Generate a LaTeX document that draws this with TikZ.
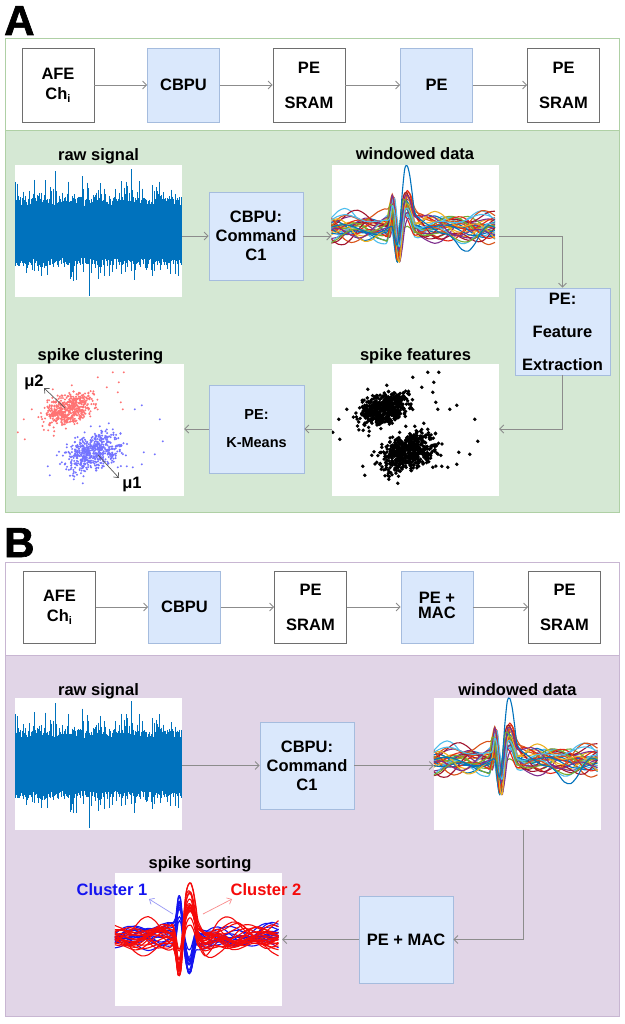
\documentclass[tikz,border=0pt]{standalone}
\usepackage{fontspec}
\setmainfont{Liberation Sans}
\newfontfamily\heavyfont[BoldFeatures={FakeBold=1.6}]{Liberation Sans}
\usetikzlibrary{arrows.meta}
\definecolor{gfill}{RGB}{213,232,212}
\definecolor{gline}{RGB}{175,208,165}
\definecolor{pfill}{RGB}{225,213,231}
\definecolor{pline}{RGB}{200,182,210}
\definecolor{bfill}{RGB}{218,232,252}
\definecolor{bline}{RGB}{165,188,222}
\definecolor{wline}{RGB}{110,110,110}
\definecolor{conncol}{RGB}{140,140,140}
\definecolor{rawcol}{RGB}{0,114,189}
\definecolor{wcol0}{RGB}{0,114,189}
\definecolor{wcol1}{RGB}{217,83,25}
\definecolor{wcol2}{RGB}{237,177,32}
\definecolor{wcol3}{RGB}{126,47,142}
\definecolor{wcol4}{RGB}{119,172,48}
\definecolor{wcol5}{RGB}{77,190,238}
\definecolor{wcol6}{RGB}{162,20,47}
\definecolor{wcol7}{RGB}{230,40,20}
\definecolor{sblue}{RGB}{20,20,240}
\definecolor{sred}{RGB}{245,10,10}

\newcommand{\rawplot}{%
  \pgfmathsetseed{11}%
  \foreach \i in {0,...,276}{%
    \pgfmathsetmacro{\myx}{0.5+\i*0.6}%
    \pgfmathsetmacro{\myup}{30+4*rand+22*(max(rnd-0.3,0)/0.7)^3}%
    \pgfmathsetmacro{\mydn}{30+4*rand+16*(max(rnd-0.35,0)/0.65)^3}%
    \draw[rawcol,line width=0.75pt] (\myx,67-\myup) -- (\myx,67+\mydn);
  }%
  \draw[rawcol,line width=0.9pt] (41,67) -- (41,6) (117,67) -- (117,4) (75,67) -- (75,131);
}

\def\mysamples{0,0.04,...,0.32,0.335,0.35,...,0.5,0.54,0.58,...,1}

\newcommand{\windowplot}{%
  \pgfmathsetseed{5}%
  \foreach \k in {0,...,29}{%
    \pgfmathsetmacro{\mypa}{360*rnd}%
    \pgfmathsetmacro{\mypb}{360*rnd}%
    \pgfmathsetmacro{\mynz}{4+7*rnd}%
    \pgfmathsetmacro{\myamp}{14+26*rnd}%
    \pgfmathsetmacro{\mysh}{0.012*rand}%
    \pgfmathsetmacro{\mybs}{62+5*rand}%
    \pgfmathtruncatemacro{\myci}{mod(\k,8)}%
    \draw[color=wcol\myci,line width=1.1pt] plot[smooth,samples at=\mysamples,variable=\q]
      ({167*\q},{\mybs+\mynz*sin(468*\q+\mypa)+0.6*\mynz*sin(1300*\q+\mypb)-\myamp*(0.75*bp(\q,0.372+\mysh,0.032)-1.0*bp(\q,0.40+\mysh,0.04)+0.75*bp(\q,0.45+\mysh,0.06))});
  }%
  \draw[color=wcol0,line width=1.1pt] plot[smooth,samples at=\mysamples,variable=\q]
      ({167*\q},{62+4*sin(500*\q+40)+6*sin(900*\q+200)-52*bp(\q,0.45,0.06)+25*bp(\q,0.40,0.04)+24*bp(\q,0.82,0.12)});
}

\newcommand{\sortplot}{%
  \pgfmathsetseed{9}%
  \foreach \k in {1,...,14}{%
    \pgfmathsetmacro{\mypa}{360*rnd}%
    \pgfmathsetmacro{\mypb}{360*rnd}%
    \pgfmathsetmacro{\mynz}{4+6*rnd}%
    \pgfmathsetmacro{\myamp}{22+14*rnd}%
    \pgfmathsetmacro{\mybs}{64+5*rand}%
    \draw[color=sblue,line width=1.1pt] plot[smooth,samples at=\mysamples,variable=\q]
      ({167*\q},{\mybs+\mynz*sin(468*\q+\mypa)+0.6*\mynz*sin(1300*\q+\mypb)-\myamp*(1.0*bp(\q,0.387,0.03)-1.0*bp(\q,0.445,0.045))});
  }%
  \foreach \k in {1,...,20}{%
    \pgfmathsetmacro{\mypa}{360*rnd}%
    \pgfmathsetmacro{\mypb}{360*rnd}%
    \pgfmathsetmacro{\mynz}{4+8*rnd}%
    \pgfmathsetmacro{\myamp}{16+28*rnd}%
    \pgfmathsetmacro{\mybs}{64+5*rand}%
    \draw[color=sred,line width=1.1pt] plot[smooth,samples at=\mysamples,variable=\q]
      ({167*\q},{\mybs+\mynz*sin(468*\q+\mypa)+0.6*\mynz*sin(1300*\q+\mypb)+\myamp*(1.0*bp(\q,0.387,0.035)-1.1*bp(\q,0.448,0.065)+0.25*bp(\q,0.54,0.08))});
  }%
}

% #1 style cluster 1, #2 style cluster 2, #3 radius
\newcommand{\scatterplot}[3]{%
  \pgfmathsetseed{77}%
  \foreach \i in {1,...,560}{%
    \pgfmathsetmacro{\mya}{rand+rand+rand}%
    \pgfmathsetmacro{\myb}{rand+rand+rand}%
    \fill[#1] ({52+11.8*\mya+2.4*\myb},{46-4.3*\mya+6.6*\myb}) circle[radius=#3];
    \pgfmathsetmacro{\mya}{rand+rand+rand}%
    \pgfmathsetmacro{\myb}{rand+rand+rand}%
    \fill[#2] ({76+12.6*\mya+2.7*\myb},{89-4.6*\mya+7.5*\myb}) circle[radius=#3];
  }%
  \foreach \p in {(96,9),(107,9),(81,14),(102,19),(90,24),(101,29),(104,39),(106,46),(15,46),(7,56),(36,26),(55,22),(1,69),(8,76)}{%
    \fill[#1] \p circle[radius=#3];
  }%
  \foreach \p in {(118,46),(125,42),(143,56),(146,78),(138,91),(127,89),(125,101),(116,104),(110,103),(101,104),(31,103),(33,112),(66,120),(57,116),(74,63),(83,63),(92,60),(96,66),(40,92),(45,99)}{%
    \fill[#2] \p circle[radius=#3];
  }%
}

\begin{document}
\begin{tikzpicture}[x=1pt,y=-1pt,
  declare function={bp(\z,\m,\w)=max(0,1-((\z-\m)/\w)*((\z-\m)/\w))^2;},
  lbl/.style={font=\bfseries\fontsize{16.5}{19}\selectfont, inner sep=0pt},
  wbox/.style={draw=wline, fill=white, line width=0.8pt, minimum width=72pt, minimum height=74pt, align=center, inner sep=0pt, font=\bfseries\fontsize{16.5}{19}\selectfont},
  bbox/.style={wbox, draw=bline, fill=bfill},
  cbox/.style={draw=bline, fill=bfill, line width=0.8pt, minimum width=94pt, minimum height=88pt, align=center, inner sep=0pt, font=\bfseries\fontsize{16.5}{19}\selectfont},
  plotbox/.style={fill=white, minimum width=167pt, minimum height=132pt, inner sep=0pt},
  conn/.style={draw=conncol, line width=0.8pt, -{Straight Barb[length=4pt,width=8pt]}},
  letter/.style={font=\heavyfont\bfseries\fontsize{42}{42}\selectfont, anchor=base west, inner sep=0pt},
]
\useasboundingbox (0,0) rectangle (624,1024);
\fill[white] (0,0) rectangle (624,1024);

% ================= Panel A =================
\node[letter] (la) at (4,35) {A};
\draw[gline, fill=white, line width=0.8pt] (5,38) rectangle (619,130);
\draw[gline, fill=gfill, line width=0.8pt] (5,130) rectangle (619,512);

\node[wbox] (a1) at (58,85) {AFE\\[1pt]Ch\raisebox{-3pt}{\fontsize{11}{11}\selectfont i}};
\node[bbox] (a2) at (183.5,85) {CBPU};
\node[wbox] (a3) at (309,85) {PE\\[16pt]SRAM};
\node[bbox] (a4) at (436.5,85) {PE};
\node[wbox] (a5) at (563.5,85) {PE\\[16pt]SRAM};
\draw[conn] (a1) -- (a2);
\draw[conn] (a2) -- (a3);
\draw[conn] (a3) -- (a4);
\draw[conn] (a4) -- (a5);

% plots A
\node[plotbox] (araw) at (98.5,231) {};
\begin{scope}[shift={(araw.north west)}]
  \clip (0,0) rectangle (167,132);
  \rawplot
\end{scope}
\node[lbl, anchor=base] (laraw) at (98.5,161) {raw signal};

\node[plotbox] (awin) at (415,231) {};
\begin{scope}[shift={(awin.north west)}]
  \clip (0,0) rectangle (167,132);
  \windowplot
\end{scope}
\node[lbl, anchor=base] (lawin) at (415,160) {windowed data};

\node[plotbox] (afeat) at (415.5,429.5) {};
\begin{scope}[shift={(afeat.north west)}]
  \clip (0,0) rectangle (167,132);
  \scatterplot{black}{black}{1.9pt}
\end{scope}
\node[lbl, anchor=base] (lafeat) at (415.5,360) {spike features};

\node[plotbox] (aclu) at (100.5,429.5) {};
\begin{scope}[shift={(aclu.north west)}]
  \clip (0,0) rectangle (167,132);
  \scatterplot{red!55}{blue!55}{1.1pt}
\end{scope}
\node[lbl, anchor=base] (laclu) at (100.5,360) {spike clustering};

\coordinate (m2s) at (65,408);
\coordinate (m2e) at (44,388);
\coordinate (m1s) at (98,455);
\coordinate (m1e) at (119,478);
\draw[black!65, line width=0.7pt, -{Straight Barb[length=4pt,width=7pt]}] (m2s) -- (m2e);
\draw[black!65, line width=0.7pt, -{Straight Barb[length=4pt,width=7pt]}] (m1s) -- (m1e);
\node[lbl] (mu2) at (34,382) {μ2};
\node[lbl] (mu1) at (132,484) {μ1};

% boxes A
\node[cbox] (acmd) at (256,236) {CBPU:\\Command\\C1};
\node[cbox, minimum width=95pt, minimum height=87pt] (afe) at (562.5,331.5) {PE:\\[14pt]Feature\\[14pt]Extraction};
\node[cbox, minimum width=95pt, font=\bfseries\fontsize{14.5}{17}\selectfont] (akm) at (256.5,429) {PE:\\[11pt]K-Means};

\draw[conn] (acmd.west -| araw.east) -- (acmd.west);
\draw[conn] (acmd.east) -- (acmd.east -| awin.west);
\draw[conn] (acmd.east -| awin.east) -| (afe.north);
\draw[conn] (afe.south) |- (akm.east -| afeat.east);
\draw[conn] (akm.east -| afeat.west) -- (akm.east);
\draw[conn] (akm.west) -- (akm.west -| aclu.east);

% ================= Panel B =================
\node[letter] (lb) at (4,557) {B};
\draw[pline, fill=white, line width=0.8pt] (5,562) rectangle (619,655);
\draw[pline, fill=pfill, line width=0.8pt] (5,655) rectangle (619,1016);

\node[wbox, minimum height=72pt] (b1) at (59.5,607) {AFE\\[1pt]Ch\raisebox{-3pt}{\fontsize{11}{11}\selectfont i}};
\node[bbox, minimum height=72pt] (b2) at (184.5,607) {CBPU};
\node[wbox, minimum height=72pt] (b3) at (310.5,607) {PE\\[16pt]SRAM};
\node[bbox, minimum height=72pt] (b4) at (437,607) {\raisebox{5pt}{\begin{tabular}{@{}c@{}}PE +\\[-4pt]MAC\end{tabular}}};
\node[wbox, minimum height=72pt] (b5) at (564.5,607) {PE\\[16pt]SRAM};
\draw[conn] (b1) -- (b2);
\draw[conn] (b2) -- (b3);
\draw[conn] (b3) -- (b4);
\draw[conn] (b4) -- (b5);

\node[plotbox] (braw) at (98.5,763.5) {};
\begin{scope}[shift={(braw.north west)}]
  \clip (0,0) rectangle (167,132);
  \rawplot
\end{scope}
\node[lbl, anchor=base] (lbraw) at (98.5,695) {raw signal};

\node[plotbox] (bwin) at (517.5,763.5) {};
\begin{scope}[shift={(bwin.north west)}]
  \clip (0,0) rectangle (167,132);
  \windowplot
\end{scope}
\node[lbl, anchor=base] (lbwin) at (517.5,695) {windowed data};

\node[plotbox, minimum height=133pt] (bsort) at (198.5,939.5) {};
\begin{scope}[shift={(bsort.north west)}]
  \clip (0,0) rectangle (167,133);
  \sortplot
\end{scope}
\node[lbl, anchor=base] (lbsort) at (200,868) {spike sorting};

\coordinate (c1s) at (173,914);
\coordinate (c1e) at (149,899);
\coordinate (c2s) at (203,914);
\coordinate (c2e) at (232,899);
\draw[color={rgb,255:red,150;green,150;blue,245}, line width=0.7pt, -{Straight Barb[length=4pt,width=7pt]}] (c1s) -- (c1e);
\draw[color={rgb,255:red,250;green,140;blue,140}, line width=0.7pt, -{Straight Barb[length=4pt,width=7pt]}] (c2s) -- (c2e);
\node[lbl, text=sblue] (cl1) at (112,890) {Cluster 1};
\node[lbl, text=sred] (cl2) at (266,890) {Cluster 2};

\node[cbox, minimum height=87pt] (bcmd) at (307,765.5) {CBPU:\\Command\\C1};
\node[cbox, minimum height=87pt] (bmac) at (406,939.5) {PE + MAC};

\draw[conn] (bcmd.west -| braw.east) -- (bcmd.west);
\draw[conn] (bcmd.east) -- (bcmd.east -| bwin.west);
\draw[conn] ([xshift=5.5pt]bwin.south) |- (bmac.east);
\draw[conn] (bmac.west) -- (bmac.west -| bsort.east);
\end{tikzpicture}
\end{document}
